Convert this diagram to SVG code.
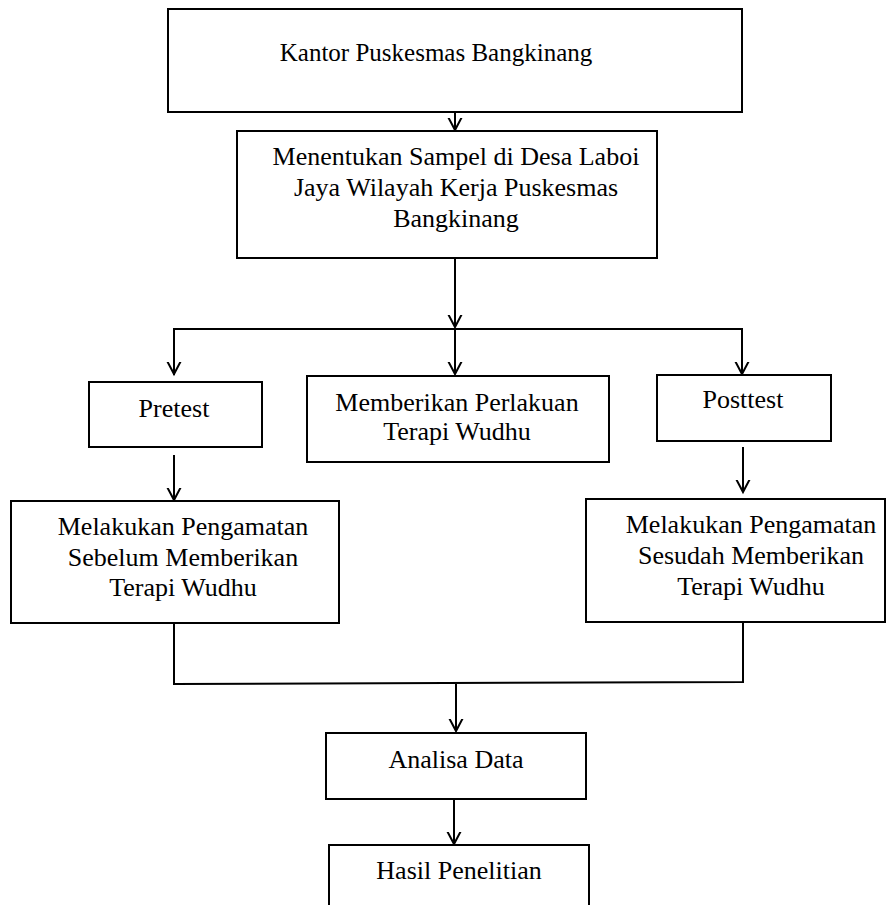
<svg xmlns="http://www.w3.org/2000/svg" width="886" height="905" viewBox="0 0 886 905">
<style>
.box{fill:#fff;stroke:#000;stroke-width:2}
.t{font-family:"Liberation Serif","Times New Roman",serif;font-size:26px;fill:#000;text-anchor:middle}
.c{fill:none;stroke:#000;stroke-width:2}
</style>
<defs>
<marker id="ah" markerUnits="userSpaceOnUse" markerWidth="24" markerHeight="24" viewBox="-12 -12 24 24" refX="0" refY="0" orient="auto">
<path d="M-17,-9 L0,0 L-17,9" fill="none" stroke="#000" stroke-width="2"/>
</marker>
</defs>
<rect width="886" height="905" fill="#fff"/>
<g id="connectors">
<line class="c" x1="455" y1="112" x2="455" y2="130" marker-end="url(#ah)"/>
<line class="c" x1="455" y1="258" x2="455" y2="327" marker-end="url(#ah)"/>
<polyline class="c" points="174,375 174,329 742,329 742,375"/>
<line class="c" x1="174" y1="329" x2="174" y2="374" marker-end="url(#ah)"/>
<line class="c" x1="455" y1="329" x2="455" y2="374" marker-end="url(#ah)"/>
<line class="c" x1="742" y1="329" x2="742" y2="374" marker-end="url(#ah)"/>
<line class="c" x1="174" y1="455" x2="174" y2="500" marker-end="url(#ah)"/>
<line class="c" x1="743" y1="447" x2="743" y2="492" marker-end="url(#ah)"/>
<polyline class="c" points="174,623 174,684 743,682 743,622"/>
<line class="c" x1="456" y1="684" x2="456" y2="731" marker-end="url(#ah)"/>
<line class="c" x1="454" y1="799" x2="454" y2="844" marker-end="url(#ah)"/>
</g>
<g id="kantor">
<rect class="box" x="168" y="9" width="574" height="103"/>
<text class="t" x="436" y="61" style="font-size:25px">Kantor Puskesmas Bangkinang</text>
</g>
<g id="sampel">
<rect class="box" x="237" y="131" width="420" height="127"/>
<text class="t" x="456" y="165">Menentukan Sampel di Desa Laboi</text>
<text class="t" x="456" y="196">Jaya Wilayah Kerja Puskesmas</text>
<text class="t" x="456" y="227">Bangkinang</text>
</g>
<g id="pretest">
<rect class="box" x="89" y="382" width="173" height="65"/>
<text class="t" x="174" y="417">Pretest</text>
</g>
<g id="perlakuan">
<rect class="box" x="307" y="376" width="302" height="86"/>
<text class="t" x="457" y="411">Memberikan Perlakuan</text>
<text class="t" x="457" y="440">Terapi Wudhu</text>
</g>
<g id="posttest">
<rect class="box" x="657" y="375" width="174" height="66"/>
<text class="t" x="743" y="408">Posttest</text>
</g>
<g id="sebelum">
<rect class="box" x="11" y="501" width="328" height="122"/>
<text class="t" x="183" y="535">Melakukan Pengamatan</text>
<text class="t" x="183" y="566">Sebelum Memberikan</text>
<text class="t" x="183" y="596">Terapi Wudhu</text>
</g>
<g id="sesudah">
<rect class="box" x="586" y="499" width="299" height="123"/>
<text class="t" x="751" y="533">Melakukan Pengamatan</text>
<text class="t" x="751" y="564">Sesudah Memberikan</text>
<text class="t" x="751" y="595">Terapi Wudhu</text>
</g>
<g id="analisa">
<rect class="box" x="326" y="733" width="260" height="66"/>
<text class="t" x="456" y="768">Analisa Data</text>
</g>
<g id="hasil">
<rect class="box" x="329" y="845" width="260" height="70"/>
<text class="t" x="459" y="879">Hasil Penelitian</text>
</g>
</svg>
